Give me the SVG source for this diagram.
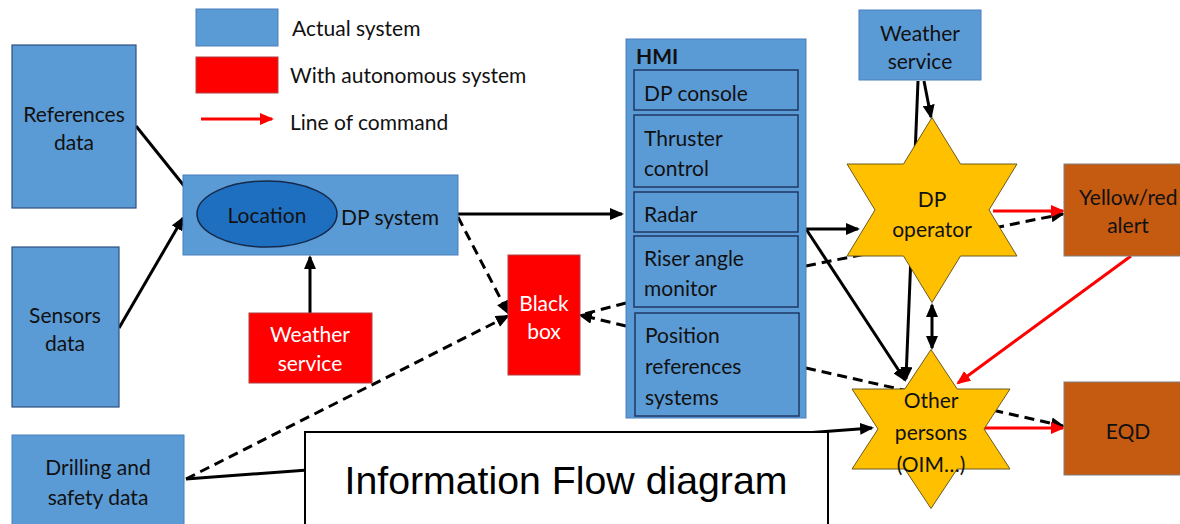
<svg xmlns="http://www.w3.org/2000/svg" width="1180" height="524" viewBox="0 0 1180 524">
<style>
  .t { font-family: Lato, "Open Sans", "Liberation Sans", sans-serif; font-size: 21px; fill: #111; text-anchor: middle; dominant-baseline: central; }
  .tl { text-anchor: start; }
  .w { fill: #fff; }
  .blue { fill: #5B9BD5; stroke: #2F4F7F; stroke-width: 1.2; }
  .lblue { fill: #5B9BD5; stroke: #4A7EBB; stroke-width: 1; }
  .sub { fill: #5B9BD5; stroke: #1F3864; stroke-width: 1.5; }
  .red { fill: #FF0000; stroke: #B04040; stroke-width: 1; }
  .brown { fill: #C55A11; stroke: #7F7F7F; stroke-width: 1; }
  .star { fill: #FFC000; stroke: #6B5A1E; stroke-width: 1; }
  .ln { fill: none; stroke: #000; stroke-width: 3; }
  .dash { stroke-dasharray: 10 6; }
  .rl { fill: none; stroke: #FF0000; stroke-width: 3; }
</style>
<defs>
  <marker id="ah" markerUnits="userSpaceOnUse" markerWidth="14" markerHeight="12" viewBox="0 0 14 12" refX="12" refY="6" orient="auto-start-reverse">
    <path d="M0,0 L14,6 L0,12 z" fill="#000"/>
  </marker>
  <marker id="rah" markerUnits="userSpaceOnUse" markerWidth="14" markerHeight="12" viewBox="0 0 14 12" refX="12" refY="6" orient="auto">
    <path d="M0,0 L14,6 L0,12 z" fill="#FF0000"/>
  </marker>
</defs>
<rect width="1180" height="524" fill="#fff"/>

<g id="legend">
  <rect x="196" y="9" width="82" height="37" class="lblue"/>
  <text x="292" y="27" class="t tl">Actual system</text>
  <rect x="196" y="57" width="82" height="36" class="red"/>
  <text x="290" y="74" class="t tl">With autonomous system</text>
  <line x1="201" y1="119" x2="272" y2="119" class="rl" marker-end="url(#rah)"/>
  <text x="290" y="121" class="t tl">Line of command</text>
</g>

<g id="connectors">
  <line x1="136" y1="126" x2="197" y2="202" class="ln" marker-end="url(#ah)"/>
  <line x1="119" y1="328" x2="183" y2="218" class="ln" marker-end="url(#ah)"/>
  <line x1="310" y1="313" x2="310" y2="257" class="ln" marker-end="url(#ah)"/>
  <line x1="458" y1="214" x2="622" y2="214" class="ln" marker-end="url(#ah)"/>
  <line x1="458" y1="217" x2="508" y2="313" class="ln dash" marker-end="url(#ah)"/>
  <line x1="186" y1="479" x2="508" y2="316" class="ln dash" marker-end="url(#ah)"/>
  <line x1="626" y1="303" x2="580" y2="315" class="ln dash"/>
  <line x1="626" y1="326" x2="580" y2="315" class="ln dash" marker-end="url(#ah)"/>
  <line x1="186" y1="479" x2="872" y2="428" class="ln" marker-end="url(#ah)"/>
  <line x1="806" y1="229" x2="858" y2="229" class="ln" marker-end="url(#ah)"/>
  <line x1="806" y1="229" x2="905" y2="380" class="ln" marker-end="url(#ah)"/>
  <line x1="918" y1="81" x2="906" y2="379" class="ln" marker-end="url(#ah)"/>
  <line x1="924" y1="81" x2="931" y2="117" class="ln" marker-end="url(#ah)"/>
  <line x1="932" y1="305" x2="932" y2="348" class="ln" marker-start="url(#ah)" marker-end="url(#ah)"/>
  <line x1="806" y1="266" x2="1063" y2="214" class="ln dash" marker-end="url(#ah)"/>
  <line x1="806" y1="368" x2="1063" y2="426" class="ln dash" marker-end="url(#ah)"/>
  <line x1="993" y1="211" x2="1063" y2="211" class="rl" marker-end="url(#rah)"/>
  <line x1="1131" y1="256" x2="958" y2="383" class="rl" marker-end="url(#rah)"/>
  <line x1="983" y1="428" x2="1063" y2="428" class="rl" marker-end="url(#rah)"/>
</g>

<g id="references-data">
  <rect x="12" y="45" width="124" height="163" class="blue"/>
  <text x="74" y="113" class="t">References</text>
  <text x="74" y="141" class="t">data</text>
</g>
<g id="sensors-data">
  <rect x="12" y="247" width="107" height="160" class="blue"/>
  <text x="65" y="314" class="t">Sensors</text>
  <text x="65" y="342" class="t">data</text>
</g>
<g id="drilling-safety-data">
  <rect x="12" y="435" width="172" height="100" class="lblue"/>
  <text x="98" y="466" class="t">Drilling and</text>
  <text x="98" y="496" class="t">safety data</text>
</g>
<g id="dp-system">
  <rect x="183" y="175" width="275" height="80" class="lblue"/>
  <text x="390" y="216" class="t">DP system</text>
</g>
<g id="location">
  <ellipse cx="267" cy="214" rx="70" ry="33" fill="#1F6FC0" stroke="#15294A" stroke-width="1.5"/>
  <text x="267" y="214" class="t">Location</text>
</g>
<g id="weather-service-auto">
  <rect x="249" y="313" width="123" height="70" class="red"/>
  <text x="310" y="333" class="t w">Weather</text>
  <text x="310" y="362" class="t w">service</text>
</g>
<g id="black-box">
  <rect x="508" y="255" width="72" height="120" class="red"/>
  <text x="544" y="302" class="t w">Black</text>
  <text x="544" y="330" class="t w">box</text>
</g>
<g id="hmi">
  <rect x="626" y="39" width="180" height="379" class="lblue"/>
  <text x="636" y="55" class="t tl" font-weight="bold">HMI</text>
  <rect x="634" y="70" width="164" height="40" class="sub"/>
  <text x="644" y="92" class="t tl">DP console</text>
  <rect x="634" y="115" width="164" height="72" class="sub"/>
  <text x="644" y="137" class="t tl">Thruster</text>
  <text x="644" y="167" class="t tl">control</text>
  <rect x="634" y="192" width="164" height="40" class="sub"/>
  <text x="644" y="213" class="t tl">Radar</text>
  <rect x="634" y="236" width="164" height="71" class="sub"/>
  <text x="644" y="257" class="t tl">Riser angle</text>
  <text x="644" y="287" class="t tl">monitor</text>
  <rect x="635" y="313" width="164" height="103" class="sub"/>
  <text x="645" y="334" class="t tl">Position</text>
  <text x="645" y="365" class="t tl">references</text>
  <text x="645" y="396" class="t tl">systems</text>
</g>
<g id="weather-service">
  <rect x="859" y="10" width="122" height="70" class="lblue"/>
  <text x="920" y="32" class="t">Weather</text>
  <text x="920" y="60" class="t">service</text>
</g>
<g id="dp-operator">
  <polygon points="932,117.5 960.5,164 1017,164 989,210 1017,256 960.5,256 932,302.5 903.5,256 847,256 875,210 847,164 903.5,164" class="star"/>
  <text x="932" y="198" class="t">DP</text>
  <text x="932" y="228" class="t">operator</text>
</g>
<g id="other-persons">
  <polygon points="931,349.5 957.2,389 1010,389 984,429 1010,469 957.2,469 931,508.5 904.8,469 852,469 878,429 852,389 904.8,389" class="star"/>
  <text x="931" y="399" class="t">Other</text>
  <text x="931" y="431" class="t">persons</text>
  <text x="931" y="463" class="t">(OIM…)</text>
</g>
<g id="yellow-red-alert">
  <rect x="1064" y="164" width="130" height="92" class="brown"/>
  <text x="1079" y="196" class="t tl">Yellow/red</text>
  <text x="1128" y="224" class="t">alert</text>
</g>
<g id="eqd">
  <rect x="1064" y="382" width="130" height="93" class="brown"/>
  <text x="1128" y="430" class="t">EQD</text>
</g>
<g id="title">
  <rect x="305" y="432" width="523" height="110" fill="#fff" stroke="#000" stroke-width="2"/>
  <text x="566" y="480" font-family="'Liberation Sans', Arial, sans-serif" font-size="39" text-anchor="middle" dominant-baseline="central" fill="#000" textLength="443" lengthAdjust="spacingAndGlyphs">Information Flow diagram</text>
</g>
</svg>
